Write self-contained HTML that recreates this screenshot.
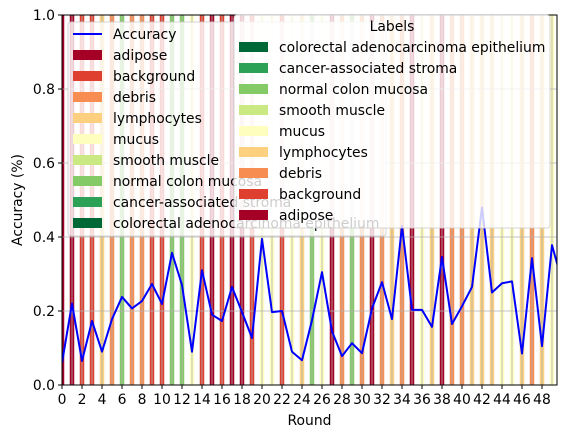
<!DOCTYPE html>
<html><head><meta charset="utf-8"><style>
body{margin:0;background:#fff}
svg text{font-family:"DejaVu Sans","Liberation Sans",sans-serif;fill:#000}
</style></head><body>
<svg id="chart" width="567" height="438" viewBox="0 0 567 438" xmlns="http://www.w3.org/2000/svg">
<g id="bars"></g>
<g id="grid"></g>
<g id="line"></g>
<g id="axes"></g>
<g id="legend1"></g>
<g id="legend2"></g>
</svg>
<script>
const rounds = [0,1,2,3,4,5,6,7,8,9,10,11,12,13,14,15,16,17,18,19,20,21,22,23,24,25,26,27,28,29,30,31,32,33,34,35,36,37,38,39,40,41,42,43,44,45,46,47,48,49,50];
const accuracy = [0.06,0.22,0.065,0.173,0.09,0.178,0.238,0.207,0.227,0.273,0.219,0.357,0.27,0.09,0.31,0.19,0.173,0.265,0.197,0.127,0.395,0.197,0.2,0.09,0.067,0.175,0.305,0.145,0.078,0.113,0.086,0.207,0.278,0.178,0.43,0.203,0.203,0.157,0.346,0.165,0.213,0.265,0.48,0.25,0.275,0.28,0.085,0.343,0.105,0.378,0.28];
const roundLabels = [0,0,1,1,3,2,6,2,2,1,1,6,6,4,1,0,1,0,0,1,4,4,1,4,3,6,4,0,2,6,2,0,2,3,2,0,4,3,0,2,2,3,3,3,4,4,3,2,3,4];
const labelNames = ["adipose","background","debris","lymphocytes","mucus","smooth muscle","normal colon mucosa","cancer-associated stroma","colorectal adenocarcinoma epithelium"];
const labelColors = ["#a50026","#de3f2e","#f88d52","#fdd07f","#feffbe","#cbe982","#84ca66","#2da155","#006837"];
const xTicks = [0,2,4,6,8,10,12,14,16,18,20,22,24,26,28,30,32,34,36,38,40,42,44,46,48];
const yTicks = [0,0.2,0.4,0.6,0.8,1.0];

const NS="http://www.w3.org/2000/svg";
const L=62,R=557,T=15,B=385,XMAX=49.5,FS=13.9;
const xs=v=>L+(R-L)*v/XMAX;
const ys=v=>B-(B-T)*v;
function mk(tag,attrs,parent){const e=document.createElementNS(NS,tag);for(const k in attrs)e.setAttribute(k,attrs[k]);parent.appendChild(e);return e;}
const svg=document.getElementById('chart');
const defs=mk('defs',{},svg);
const cp=mk('clipPath',{id:'plotclip'},defs);mk('rect',{x:L,y:T,width:R-L,height:B-T},cp);
const gb=document.getElementById('bars');gb.setAttribute('clip-path','url(#plotclip)');
roundLabels.forEach((lab,i)=>{
  const w=xs(0.45)-xs(0);
  const r=mk('rect',{x:xs(i)-w/2,y:T,width:w,height:B-T,fill:labelColors[lab]},gb);
  
  
});
const gg=document.getElementById('grid');
for(let i=0;i<=49;i++){mk('line',{x1:xs(i),x2:xs(i),y1:T,y2:B,stroke:'#b0b0b0','stroke-width':0.8},gg);}
yTicks.forEach(v=>mk('line',{x1:L,x2:R,y1:ys(v),y2:ys(v),stroke:'#b0b0b0','stroke-width':0.8},gg));
const gl=document.getElementById('line');gl.setAttribute('clip-path','url(#plotclip)');
const pl=mk('polyline',{points:rounds.map((r,i)=>xs(r)+','+ys(accuracy[i])).join(' '),fill:'none',stroke:'#0000ff','stroke-width':2,'stroke-linejoin':'round'},gl);


const ga=document.getElementById('axes');
mk('rect',{x:L,y:T,width:R-L,height:B-T,fill:'none',stroke:'#000','stroke-width':1},ga);
xTicks.forEach(v=>{mk('line',{x1:xs(v),x2:xs(v),y1:B,y2:B+4,stroke:'#000'},ga);
  const t=mk('text',{x:xs(v),y:B+19,'text-anchor':'middle','font-size':FS},ga);t.textContent=v;
  
  });
yTicks.forEach(v=>{mk('line',{x1:L-4,x2:L,y1:ys(v),y2:ys(v),stroke:'#000'},ga);
  const t=mk('text',{x:L-7,y:ys(v)+5,'text-anchor':'end','font-size':FS},ga);t.textContent=v.toFixed(1);
  
  });
const xl=mk('text',{x:(L+R)/2,y:425,'text-anchor':'middle','font-size':FS},ga);xl.textContent='Round';


const yl=mk('text',{x:0,y:0,'text-anchor':'middle','font-size':FS,transform:'translate(22,200) rotate(-90)'},ga);yl.textContent='Accuracy (%)';



const g1=document.getElementById('legend1');
mk('rect',{x:68,y:22,width:318,height:214,rx:3,fill:'#fff','fill-opacity':0.8,stroke:'#cccccc','stroke-opacity':0.8},g1);
mk('line',{x1:73,x2:102,y1:34,y2:34,stroke:'#0000ff','stroke-width':2},g1);
let t=mk('text',{x:113,y:39,'font-size':FS},g1);t.textContent='Accuracy';
labelNames.forEach((n,i)=>{const y=55+21*(i);
  mk('rect',{x:73,y:y-5,width:29,height:10,fill:labelColors[i]},g1);
  const tt=mk('text',{x:113,y:y+5,'font-size':FS},g1);tt.textContent=n;
  
  });
const g2=document.getElementById('legend2');
mk('rect',{x:234,y:15,width:316,height:213,rx:3,fill:'#fff','fill-opacity':0.8,stroke:'#cccccc','stroke-opacity':0.8},g2);
t=mk('text',{x:392,y:31,'text-anchor':'middle','font-size':FS},g2);t.textContent='Labels';
for(let i=8;i>=0;i--){const y=47+21*(8-i);
  mk('rect',{x:239,y:y-5,width:29,height:10,fill:labelColors[i]},g2);
  const tt=mk('text',{x:279,y:y+5,'font-size':FS},g2);tt.textContent=labelNames[i];
  
  }
</script>
</body></html>
